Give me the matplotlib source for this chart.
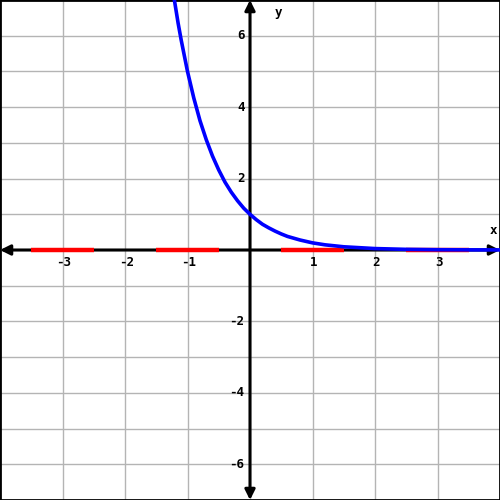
"""Graph of a decaying exponential with highlighted x-axis intervals."""
import matplotlib
matplotlib.use("Agg")
import matplotlib.pyplot as plt

# curve samples
curve_x = [-1.21, -1.15, -1.1, -1.0, -0.9, -0.8, -0.7, -0.6, -0.5, -0.4, -0.3,
           -0.2, -0.1, 0.0, 0.1, 0.2, 0.3, 0.4, 0.5, 0.6, 0.8, 1.0, 1.2, 1.5,
           2.0, 2.5, 3.0, 3.5, 4.0]
curve_y = [7.0, 6.35, 5.87, 5.0, 4.26, 3.62, 3.09, 2.63, 2.24, 1.90, 1.62,
           1.38, 1.17, 1.0, 0.85, 0.72, 0.62, 0.53, 0.45, 0.38, 0.28, 0.20,
           0.145, 0.09, 0.04, 0.018, 0.008, 0.004, 0.002]

# red intervals on the x-axis (start, end)
intervals = [(-3.5, -2.5), (-1.5, -0.5), (0.5, 1.5), (2.5, 3.5)]

x_ticks = [-3, -2, -1, 1, 2, 3]
y_ticks = [-6, -4, -2, 2, 4, 6]

fig = plt.figure(figsize=(5, 5), dpi=100)
ax = fig.add_axes([0, 0, 1, 1])
ax.set_xlim(-4, 4)
ax.set_ylim(-7, 7)

# grid: every unit
for gx in range(-3, 4):
    ax.axvline(gx, color="#b4b4b4", lw=1.0, zorder=0)
for gy in range(-6, 7):
    ax.axhline(gy, color="#b4b4b4", lw=1.0, zorder=0)

# axes with arrows at both ends
arrow = dict(arrowstyle="<|-|>", color="black", lw=2.2,
             mutation_scale=15, shrinkA=0, shrinkB=0)
ax.annotate("", xy=(4, 0), xytext=(-4, 0), arrowprops=arrow, zorder=2)
ax.annotate("", xy=(0, 7), xytext=(0, -7), arrowprops=arrow, zorder=2)

for a, b in intervals:
    ax.plot([a, b], [0, 0], color="#ff0000", lw=3.2, solid_capstyle="butt", zorder=3)

ax.plot(curve_x, curve_y, color="#0000ff", lw=2.6, zorder=4)

font = dict(family="DejaVu Sans Mono", fontweight="bold", fontsize=9)
for t in x_ticks:
    ax.text(t + 0.02, -0.18, str(t), ha="center", va="top", **font)
for t in y_ticks:
    ax.text(-0.09, t, str(t), ha="right", va="center", **font)
ax.text(3.9, 0.55, "x", ha="center", va="center", **font)
ax.text(0.45, 6.65, "y", ha="center", va="center", **font)

ax.set_xticks([])
ax.set_yticks([])
for s in ax.spines.values():
    s.set_linewidth(2)
    s.set_color("black")

fig.savefig("out.png", dpi=100)
